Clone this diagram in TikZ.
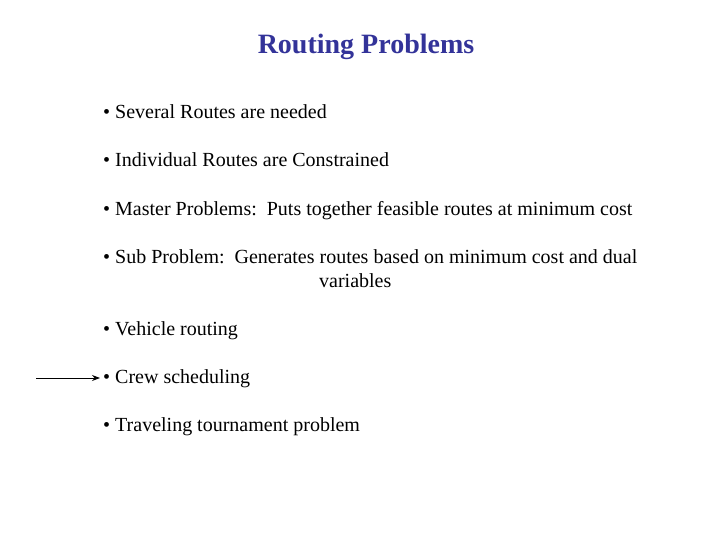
\documentclass[tikz,border=0pt]{standalone}
\usepackage{fontspec}
\setmainfont{Liberation Serif}
\usetikzlibrary{arrows.meta}
\definecolor{ttl}{RGB}{51,51,153}
\begin{document}
\begin{tikzpicture}[x=1pt,y=-1pt,
  item/.style={anchor=base west,inner sep=0pt,font=\fontsize{20}{22}\selectfont}]
\useasboundingbox (0,0) rectangle (720,540);
\node[anchor=base,inner sep=0pt,text=ttl,font=\fontsize{28}{30}\selectfont\bfseries] (t) at (366,54) {Routing Problems};
\node[item] (a) at (103,119) {• Several Routes are needed};
\node[item] (b) at (103,167) {• Individual Routes are Constrained};
\node[item] (c) at (103,215) {• Master Problems:\ \ Puts together feasible routes at minimum cost};
\node[item] (d) at (103,263) {• Sub Problem:\ \ Generates routes based on minimum cost and dual};
\node[item] (d2) at (319,287) {variables};
\node[item] (e) at (103,335) {• Vehicle routing};
\node[item] (f) at (103,383) {• Crew scheduling};
\node[item] (g) at (103,431) {• Traveling tournament problem};
\coordinate (s) at (36,378);
\draw[-{Stealth[length=8pt,width=6pt]},line width=1pt,shorten >=3pt] (s) -- (f.west |- s);
\end{tikzpicture}
\end{document}
